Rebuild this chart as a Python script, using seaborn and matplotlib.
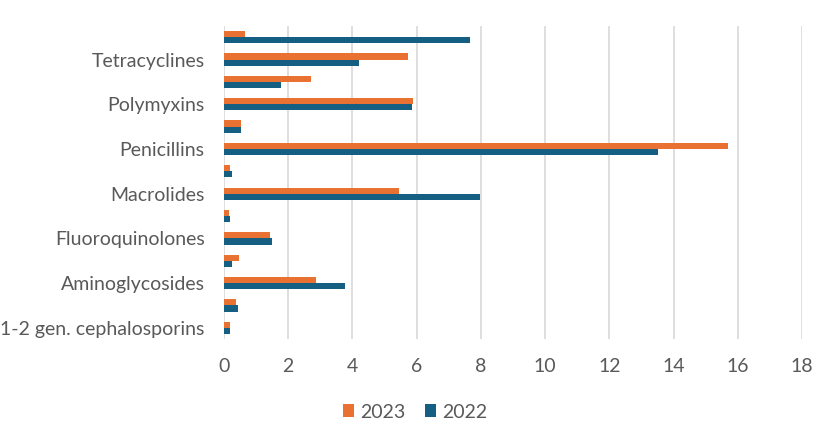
import matplotlib
matplotlib.use("Agg")
import matplotlib.pyplot as plt
import seaborn as sns
import pandas as pd
from matplotlib.patches import Patch

# Categories listed top to bottom (only every other label is shown on the axis)
categories = [
    "Trimethoprim", "Tetracyclines", "Sulfonamides", "Polymyxins",
    "Pleuromutilins", "Penicillins", "Other quinolones", "Macrolides",
    "Lincosamides", "Fluoroquinolones", "Amphenicols", "Aminoglycosides",
    "3-4 gen. cephalosporins", "1-2 gen. cephalosporins",
]
tick_labels = [
    "", "Tetracyclines", "", "Polymyxins", "", "Penicillins", "",
    "Macrolides", "", "Fluoroquinolones", "", "Aminoglycosides", "",
    "1-2 gen. cephalosporins",
]
values_2023 = [0.65, 5.73, 2.70, 5.89, 0.52, 15.69, 0.19, 5.44, 0.15, 1.43, 0.48, 2.88, 0.37, 0.19]
values_2022 = [7.67, 4.21, 1.76, 5.84, 0.52, 13.53, 0.25, 7.98, 0.19, 1.48, 0.25, 3.78, 0.43, 0.19]
series = ["2023", "2022"]
x_ticks = [0, 2, 4, 6, 8, 10, 12, 14, 16, 18]

df = pd.DataFrame({
    "category": categories * 2,
    "value": values_2023 + values_2022,
    "year": ["2023"] * len(categories) + ["2022"] * len(categories),
})

sns.set_theme(style="white")
plt.rcParams["font.family"] = ["Lato", "DejaVu Sans"]

colors = {"2023": "#E97132", "2022": "#156082"}
text_color = "#595959"
fs = 14.0

fig = plt.figure(figsize=(8.30, 4.38), dpi=100)
ax = fig.add_axes([224 / 830, 1 - 339 / 438, (802 - 224) / 830, (339 - 26) / 438])

sns.barplot(data=df, x="value", y="category", hue="year", hue_order=series,
            order=categories, palette=colors, saturation=1, width=0.55, gap=0,
            linewidth=0, ax=ax, legend=False)

ax.set_xlim(0, 18)
ax.set_ylim(len(categories) - 0.5, -0.5)
ax.set_xticks(x_ticks)
ax.set_xticklabels([str(t) for t in x_ticks])
ax.set_yticks(range(len(categories)))
ax.set_yticklabels(tick_labels)
ax.set_xlabel("")
ax.set_ylabel("")
ax.grid(axis="x", color="#D9D9D9", linewidth=1.2)
ax.set_axisbelow(True)
for s in ax.spines.values():
    s.set_visible(False)
ax.tick_params(axis="y", length=0, pad=14, labelsize=fs, labelcolor=text_color)
ax.tick_params(axis="x", length=0, pad=14, labelsize=fs, labelcolor=text_color)

handles = [Patch(facecolor=colors[s], edgecolor="none", label=s) for s in series]
fig.legend(handles=handles, loc="center", bbox_to_anchor=(415 / 830, 1 - 412 / 438),
           ncol=2, frameon=False, fontsize=fs, labelcolor=text_color,
           handlelength=0.6, handleheight=0.6, handletextpad=0.3, columnspacing=1.0)

fig.savefig("out.png", dpi=100)
